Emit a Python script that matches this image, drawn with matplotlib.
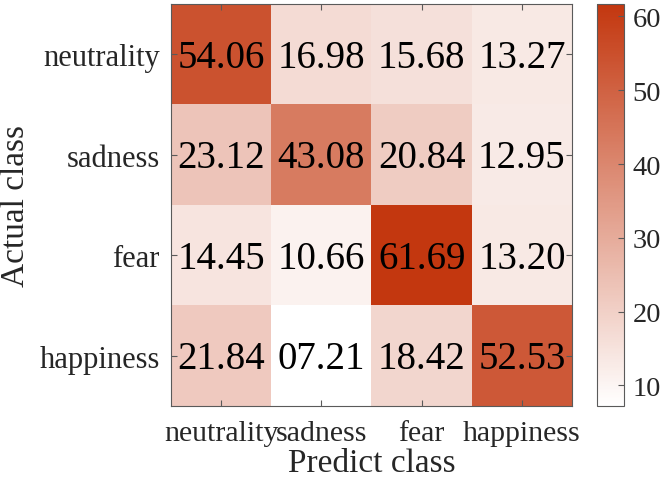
import numpy as np
import matplotlib.pyplot as plt
from matplotlib.colors import LinearSegmentedColormap

# class names and confusion matrix (percent)
classes = ['neutrality', 'sadness', 'fear', 'happiness']
row_neutrality = [54.06, 16.98, 15.68, 13.27]
row_sadness = [23.12, 43.08, 20.84, 12.95]
row_fear = [14.45, 10.66, 61.69, 13.20]
row_happiness = [21.84, 7.21, 18.42, 52.53]
cbar_ticks = [10, 20, 30, 40, 50, 60]

cm = np.array([row_neutrality, row_sadness, row_fear, row_happiness])

plt.rcParams['font.family'] = ['Liberation Serif', 'DejaVu Serif']
txt_col = '#262626'
box_col = '#5a5a5a'

cmap = LinearSegmentedColormap.from_list('wr', ['#ffffff', '#c3370f'])

fig = plt.figure(figsize=(6.64, 4.89), dpi=100)
ax = fig.add_axes([171 / 664, 1 - 407 / 489, 401 / 664, 402 / 489])
cax = fig.add_axes([597 / 664, 1 - 407 / 489, 27 / 664, 402 / 489])

im = ax.imshow(cm, cmap=cmap, vmin=cm.min(), vmax=cm.max(),
               aspect='auto', interpolation='nearest')

for i in range(cm.shape[0]):
    for j in range(cm.shape[1]):
        ax.text(j, i + 0.03, f"{cm[i, j]:05.2f}", ha='center', va='center',
                fontsize=28, color='black')

ax.set_xticks(range(len(classes)))
ax.set_yticks(range(len(classes)))
ax.set_xticklabels(classes, fontsize=21.5, color=txt_col)
ax.set_yticklabels(classes, fontsize=22, color=txt_col)
ax.tick_params(direction='in', length=4, width=0.8, color=box_col,
               top=True, right=True)
ax.tick_params(axis='x', pad=10)
ax.tick_params(axis='y', pad=8)
ax.set_xlabel('Predict class', fontsize=24, color=txt_col, labelpad=1)
ax.set_ylabel('Actual class', fontsize=24, color=txt_col, labelpad=6)
for spine in ax.spines.values():
    spine.set_color(box_col)
    spine.set_linewidth(0.8)

cb = fig.colorbar(im, cax=cax, ticks=cbar_ticks)
cb.outline.set_edgecolor(box_col)
cb.outline.set_linewidth(0.8)
cax.tick_params(direction='in', length=4, width=0.8, color=box_col,
                labelsize=20.5, labelcolor=txt_col, pad=6)

plt.savefig('out.png', dpi=100)
